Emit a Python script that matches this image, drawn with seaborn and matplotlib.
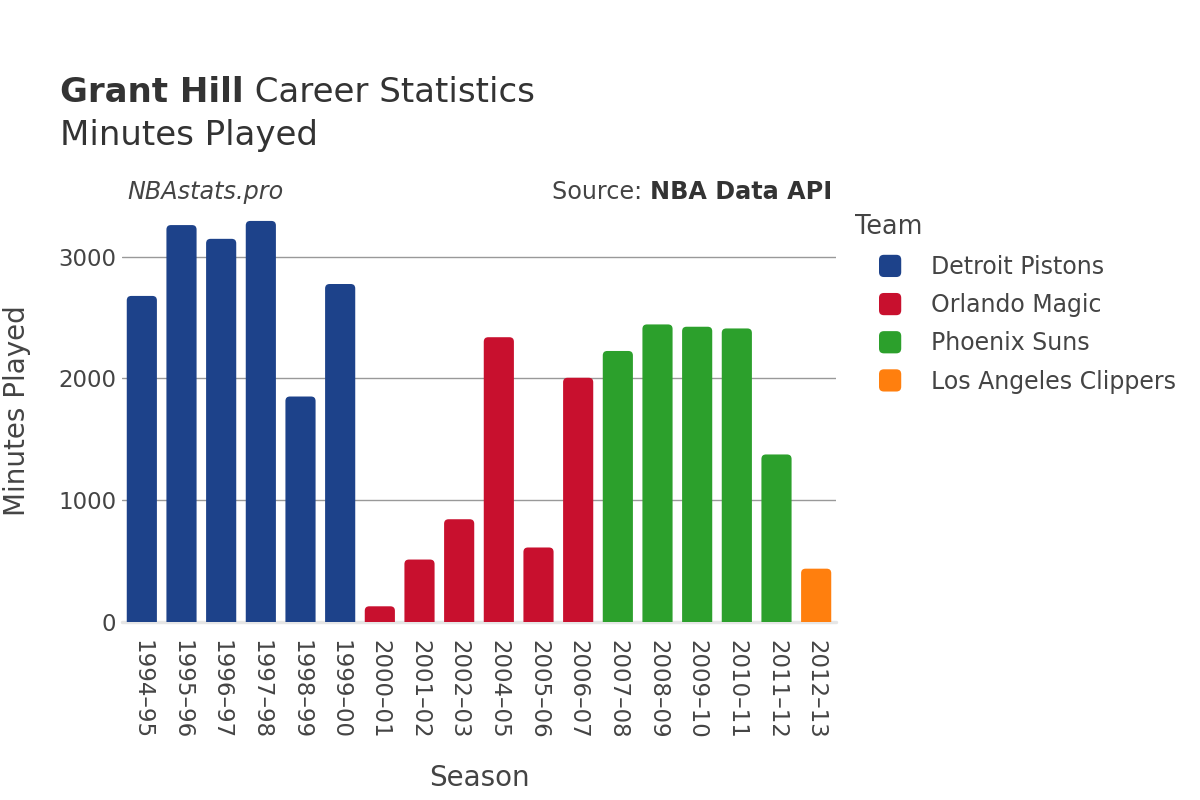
import matplotlib
matplotlib.use("Agg")
import matplotlib.pyplot as plt
import seaborn as sns
import pandas as pd
import numpy as np
from matplotlib.patches import FancyBboxPatch, Patch
from matplotlib.legend_handler import HandlerPatch

seasons = ["1994–95", "1995–96", "1996–97", "1997–98", "1998–99", "1999–00",
           "2000–01", "2001–02", "2002–03", "2004–05", "2005–06", "2006–07",
           "2007–08", "2008–09", "2009–10", "2010–11", "2011–12", "2012–13"]
teams = ["Detroit Pistons"] * 6 + ["Orlando Magic"] * 6 + ["Phoenix Suns"] * 5 + ["Los Angeles Clippers"]
minutes = [2678, 3260, 3147, 3294, 1852, 2776,
           129, 513, 844, 2339, 612, 2006,
           2226, 2444, 2425, 2411, 1376, 438]

team_order = ["Detroit Pistons", "Orlando Magic", "Phoenix Suns", "Los Angeles Clippers"]
team_colors = ["#1D428A", "#C8102E", "#2CA02C", "#FF7F0E"]
yticks = [0, 1000, 2000, 3000]

sns.set_theme(style="white")
plt.rcParams["font.family"] = ["DejaVu Sans"]

TXT = "#444444"
W, H = 1200, 800
fig = plt.figure(figsize=(12, 8), dpi=100)
ax_l, ax_r, ax_b, ax_t = 122, 836, 622, 200.6
ax = fig.add_axes([ax_l / W, 1 - ax_b / H, (ax_r - ax_l) / W, (ax_b - ax_t) / H])

df = pd.DataFrame({"season": seasons, "team": teams, "minutes": minutes})
sns.barplot(data=df, x="season", y="minutes", hue="team", order=seasons,
            hue_order=team_order, palette=dict(zip(team_order, team_colors)),
            dodge=False, width=0.76, saturation=1, legend=False, ax=ax)

ymax = 3461
ax.set_xlim(-0.5, len(seasons) - 0.5)
ax.set_ylim(0, ymax)

# rounded bar tops
px_x = (ax_r - ax_l) / len(seasons)
px_y = (ax_b - ax_t) / ymax
r_px = 4.5
rx = r_px / px_x
ry = r_px / px_y
for p in list(ax.patches):
    h = p.get_height()
    if not np.isfinite(h) or h == 0:
        p.remove()
        continue
    x, w = p.get_x(), p.get_width()
    fc = p.get_facecolor()
    p.remove()
    ext = ry * 2
    rp = FancyBboxPatch((x, -ext), w, h + ext,
                        boxstyle=f"round,pad=0,rounding_size={rx}",
                        mutation_aspect=ry / rx, fc=fc, ec="none", zorder=2)
    ax.add_patch(rp)

ax.set_yticks(yticks)
ax.yaxis.grid(True, color="#999999", lw=1)
ax.xaxis.grid(False)
ax.set_axisbelow(True)
for s in ax.spines.values():
    s.set_visible(False)
ax.axhline(0, color="#e6e6e6", lw=2.5, zorder=1.5, clip_on=False)

ax.set_xlabel("")
ax.set_ylabel("")
ax.tick_params(axis="y", labelsize=16.5, labelcolor=TXT, length=0, pad=4)
ax.tick_params(axis="x", labelsize=16.5, labelcolor=TXT, length=0, pad=13)
ax.set_xticks(range(len(seasons)))
ax.set_xticklabels(seasons, rotation=-90, ha="center", va="top")

fig.text(479 / W, 1 - 778 / H, "Season", fontsize=20, color=TXT, ha="center", va="center")
fig.text(17 / W, 1 - 411 / H, "Minutes Played", fontsize=20, color=TXT, ha="center",
         va="center", rotation=90)

# titles
fig.canvas.draw()
rend = fig.canvas.get_renderer()
TS = 24.5
t1 = fig.text(60 / W, 1 - 102 / H, "Grant Hill", fontsize=TS, fontweight="bold",
              color="#333333", va="baseline", ha="left")
bb = t1.get_window_extent(rend)
fig.text(bb.x1 / W, 1 - 102 / H, " Career Statistics", fontsize=TS, color="#333333",
         va="baseline", ha="left")
fig.text(60 / W, 1 - 145 / H, "Minutes Played", fontsize=TS, color="#333333",
         va="baseline", ha="left")

SS = 17.2
fig.text(127 / W, 1 - 199 / H, "NBAstats.pro", fontsize=SS, style="italic",
         color=TXT, va="baseline", ha="left")
s2 = fig.text(832 / W, 1 - 199 / H, "NBA Data API", fontsize=SS, fontweight="bold",
              color="#333333", va="baseline", ha="right")
bb2 = s2.get_window_extent(rend)
fig.text(bb2.x0 / W, 1 - 199 / H, "Source: ", fontsize=SS, color=TXT,
         va="baseline", ha="right")

# legend
fig.text(855 / W, 1 - 227 / H, "Team", fontsize=18.4, color=TXT, ha="left", va="center")


class RoundHandler(HandlerPatch):
    def create_artists(self, legend, orig_handle, xdescent, ydescent, width, height,
                       fontsize, trans):
        s = 16
        cx = -xdescent + width / 2
        cy = -ydescent + height / 2
        p = FancyBboxPatch((cx - s / 2, cy - s / 2), s, s,
                           boxstyle="round,pad=0,rounding_size=3.5",
                           fc=orig_handle.get_facecolor(), ec="none", transform=trans)
        return [p]


handles = [Patch(facecolor=c, label=t) for t, c in zip(team_order, team_colors)]
leg = fig.legend(handles=handles, loc="upper left", bbox_to_anchor=(879 / W, 1 - 255 / H),
                 frameon=False, fontsize=17, borderpad=0, borderaxespad=0,
                 handlelength=16 / 17, handleheight=1.0, handletextpad=1.27,
                 labelspacing=0.60, handler_map={Patch: RoundHandler()})
for t in leg.get_texts():
    t.set_color(TXT)

fig.savefig("out.png", dpi=100)
